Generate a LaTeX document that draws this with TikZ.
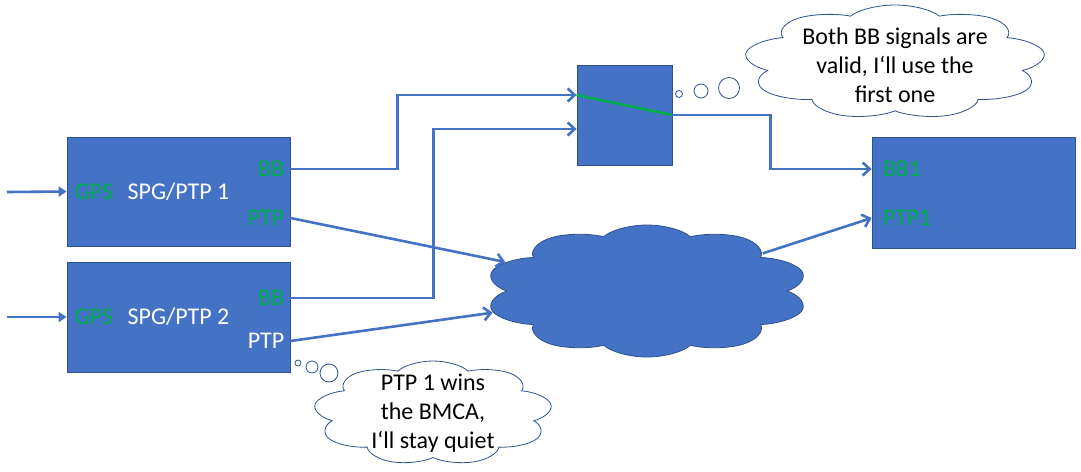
\documentclass[tikz,border=0pt]{standalone}
\usepackage{fontspec}
\setmainfont{Carlito}
\usetikzlibrary{arrows.meta}
\usetikzlibrary{shapes.symbols}
\usetikzlibrary{positioning}
\tikzset{unit/.style = {draw = edgeblue, line width = 0.8, fill = boxblue, text = white, inner sep = 0},
  port/.style = {text = sgreen, inner sep = 3},
  link/.style = {draw = boxblue, line width = 2.6, -{Straight Barb[length = 7pt, width = 13pt]}},
  feed/.style = {draw = boxblue, line width = 2.6, -{Triangle[length = 8pt, width = 10pt]}},
  puffy/.style = {cloud, cloud puffs = 9, cloud puff arc = 135, draw = edgeblue, line width = 0.8, transform shape, inner sep = 0},
  bubble/.style = {circle, draw = edgeblue, line width = 0.8, fill = white, inner sep = 0}}
\definecolor{boxblue}{RGB}{68, 114, 196}
\definecolor{edgeblue}{RGB}{47, 82, 143}
\definecolor{sgreen}{RGB}{0, 176, 80}

\begin{document}
\begin{tikzpicture}[x = 1pt, y = -1pt, font = \fontsize{24}{29}\selectfont]
      \useasboundingbox (0, 0) rectangle (1081, 471);
      \node [unit, minimum width = 223, minimum height = 109] (spg1) at (178.5, 191.5) {SPG/PTP 1};
      \node [unit, minimum width = 223, minimum height = 110] (spg2) at (178.5, 317) {SPG/PTP 2};
      \node [unit, minimum width = 95, minimum height = 100] (sw) at (624.5, 115) {};
      \node [unit, minimum width = 203, minimum height = 111] (dst) at (973.5, 192.5) {};
      \node [port, anchor = west] (gps1) at ([xshift = 5]spg1.west) {GPS};
      \node [port, anchor = east] (bb1) at ([xshift = -3, yshift = 22.5]spg1.east) {BB};
      \node [port, anchor = east] (ptp1) at ([xshift = -3, yshift = -26.5]spg1.east) {PTP};
      \node [port, anchor = west] (gps2) at ([xshift = 5]spg2.west) {GPS};
      \node [port, anchor = east] (bb2) at ([xshift = -3, yshift = 19]spg2.east) {BB};
      \node [port, text = white, anchor = east] (ptp2) at ([xshift = -3, yshift = -24]spg2.east) {PTP};
      \node [port, anchor = west] (dstbb) at ([xshift = 8, yshift = 23.5]dst.west) {BB1};
      \node [port, anchor = west] (dstptp) at ([xshift = 8, yshift = -25.5]dst.west) {PTP1};
      \begin{scope}[shift = {(647, 291)}, xscale = 2.46]
        \node [puffy, cloud puffs = 10, fill = boxblue, minimum size = 132] (net) at (0, 0) {};
      \end{scope}

      \coordinate (gpsin1) at (7, 192);
      \coordinate (gpsin2) at (7, 317);
      \coordinate (swin1) at ([yshift = 20]sw.west);
      \coordinate (swin2) at ([yshift = -14]sw.west);

      \draw [feed] (gpsin1) -- (spg1.west |- gps1);
      \draw [feed] (gpsin2) -- (spg2.west |- gps2);
      \draw [link] (spg1.east |- bb1) -- ++(107, 0) |- (swin1);
      \draw [link] (spg2.east |- bb2) -- ++(143, 0) |- (swin2);
      \draw [link] (sw.east) -- ++(98, 0) |- (dst.west |- dstbb);
      \draw [sgreen, line width = 2.6] (swin1) -- (sw.east);
      \draw [link] (spg1.east |- ptp1) -- (net);
      \draw [link] (spg2.east |- ptp2) -- (net);
      \draw [link] (net) -- (dst.west |- dstptp);

      % thoughts
      \begin{scope}[shift = {(895, 62)}, xscale = 2.65]
        \node [puffy, fill = white, minimum size = 114] (think1) at (0, 0) {};
      \end{scope}
      \node [align = center] (think1text) at ([yshift = -3]think1.center)
        {Both BB signals are\\valid, I‘ll use the\\first one};
      \node [bubble, minimum size = 7] (t1a) at (679, 94) {};
      \node [bubble, minimum size = 14] (t1b) at (701, 91) {};
      \node [bubble, minimum size = 21] (t1c) at (729, 88) {};
      \begin{scope}[shift = {(433, 413)}, xscale = 2.3]
        \node [puffy, fill = white, minimum size = 104] (think2) at (0, 0) {};
      \end{scope}
      \node [align = center] (think2text) at (think2.center)
        {PTP 1 wins\\the BMCA,\\I‘ll stay quiet};
      \node [bubble, minimum size = 6] (t2a) at (298, 363) {};
      \node [bubble, minimum size = 12] (t2b) at (312, 367) {};
      \node [bubble, minimum size = 18] (t2c) at (329, 373) {};
    \end{tikzpicture}
\end{document}
